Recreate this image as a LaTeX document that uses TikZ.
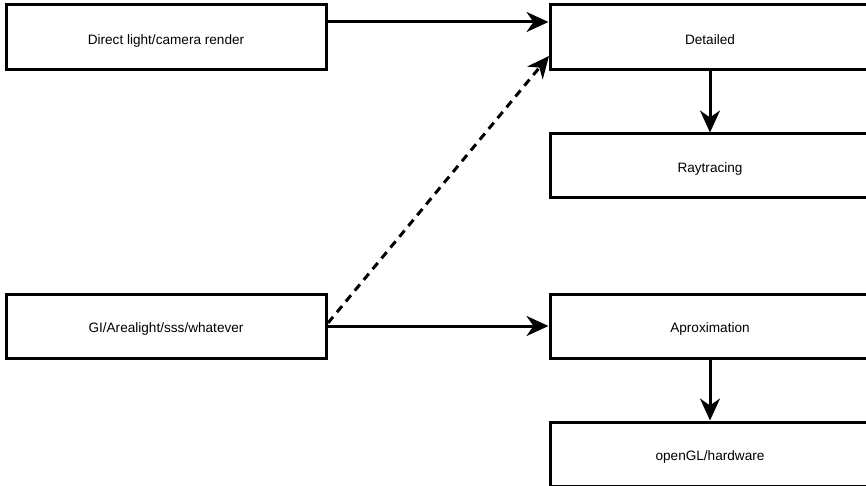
\documentclass[tikz,border=0pt]{standalone}
\usepackage{fontspec}
\setmainfont{Liberation Sans}
\usetikzlibrary{arrows.meta}
\begin{document}
\begin{tikzpicture}[x=1pt,y=-1pt,
  box/.style={draw=black,line width=3pt,minimum width=320pt,minimum height=65pt,inner sep=0pt,text height=14.5pt,text depth=1pt,font=\fontsize{13.6}{16}\selectfont},
  arr/.style={line width=3pt,-{Stealth[length=22pt,width=20pt,inset=7pt]}}]
\useasboundingbox (0,0) rectangle (866,486);
\begin{scope}
\clip (0,0) rectangle (866,486);
\node[box] (direct) at (166,37.5) {Direct light/camera render};
\node[box] (detailed) at (710,37.5) {Detailed};
\node[box,minimum height=64pt] (ray) at (710,166) {Raytracing};
\node[box,minimum height=64pt] (gi) at (166,326) {GI/Arealight/sss/whatever};
\node[box,minimum height=64pt] (approx) at (710,326) {Aproximation};
\node[box,minimum height=64pt] (ogl) at (710,454) {openGL/hardware};
\coordinate (dstart) at (328,323);
\coordinate (dend) at (549,56);
\draw[arr] (direct.east |- 0,22) -- (detailed.west |- 0,22);
\draw[arr] (detailed.south) -- (ray.north);
\draw[arr] (gi.east) -- (approx.west);
\draw[arr] (approx.south) -- (ogl.north);
\draw[arr,dash pattern=on 8pt off 6pt] (dstart) -- (dend);
\end{scope}
\end{tikzpicture}
\end{document}
